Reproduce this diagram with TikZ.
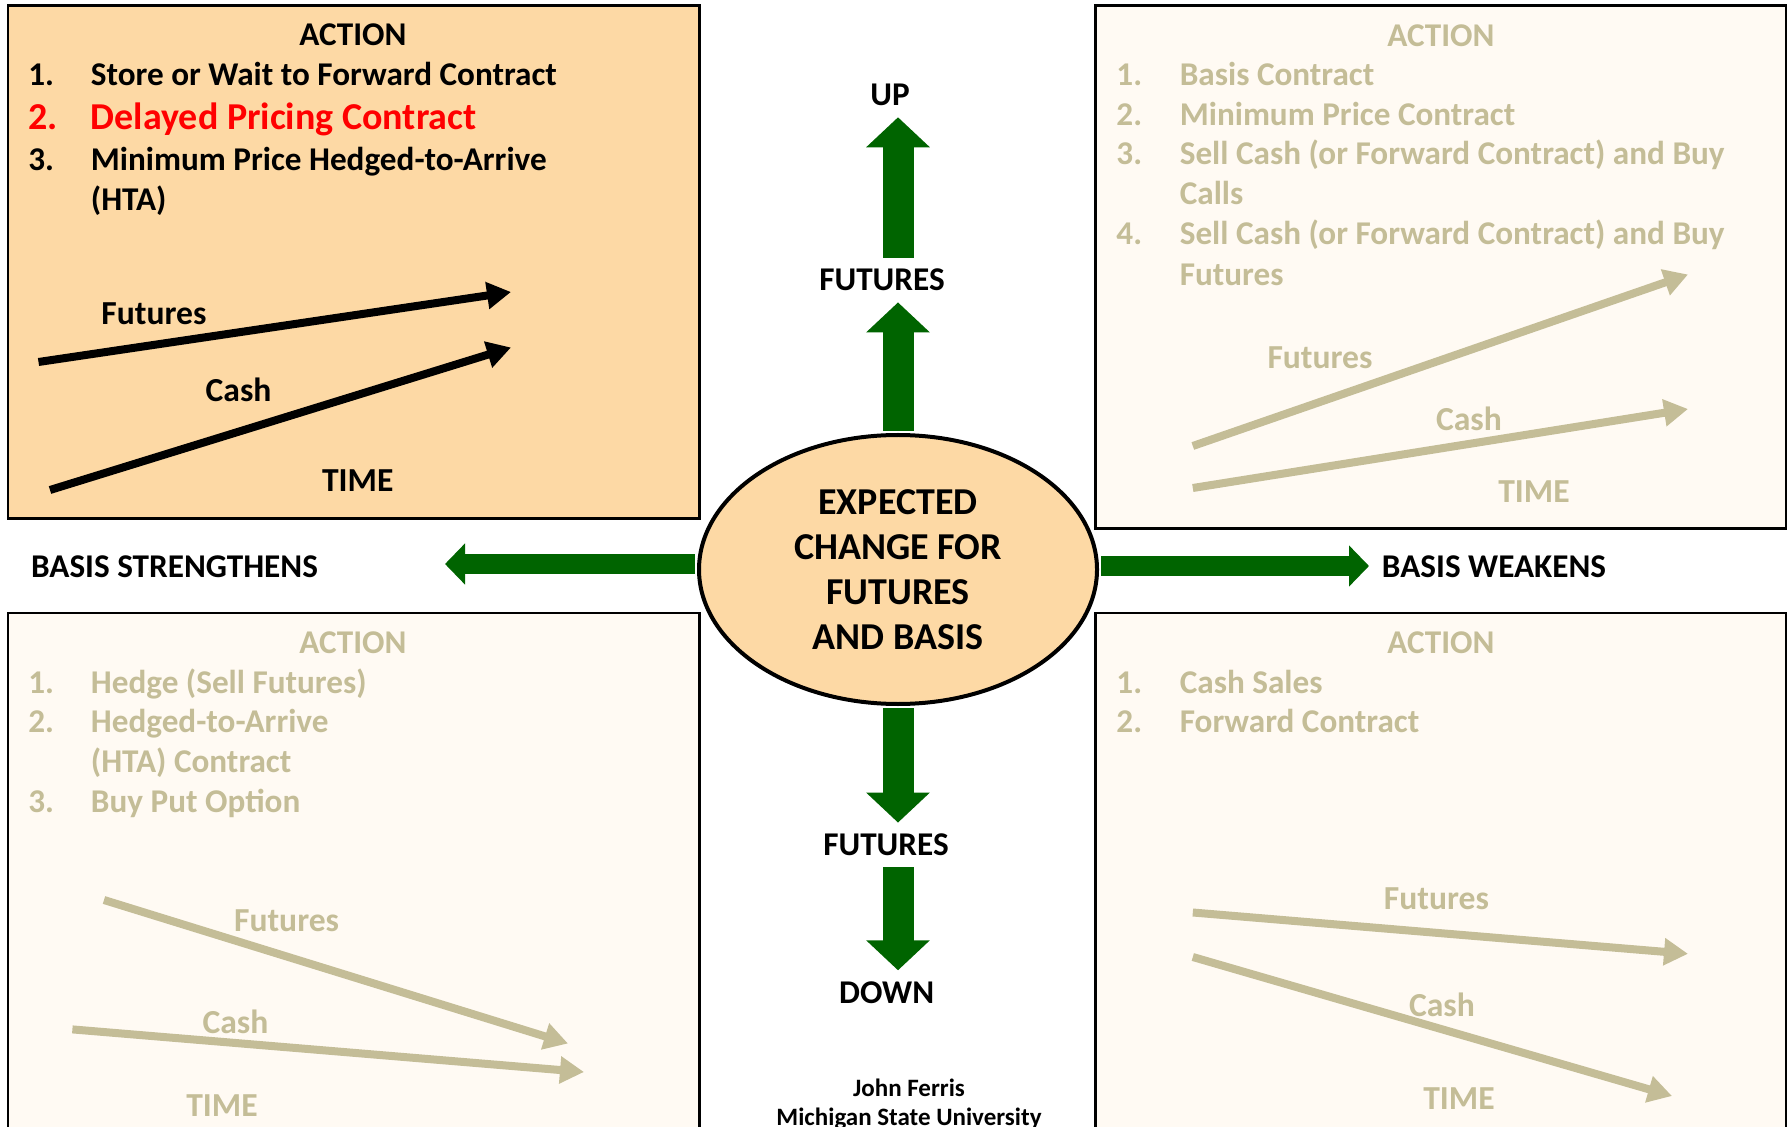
\documentclass[tikz,border=0pt]{standalone}
\usepackage{fontspec}
\setmainfont{Carlito}
\usetikzlibrary{shapes.geometric, arrows.meta}
\definecolor{peach}{HTML}{FDD9A5}
\definecolor{paper}{HTML}{FFFAF3}
\definecolor{tan}{HTML}{C4BD97}
\definecolor{dkgreen}{HTML}{006400}
\tikzset{
  box/.style={draw=black, line width=1.2pt},
  head/.style={font=\bfseries\fontsize{16.6}{20}\selectfont, anchor=base, inner sep=0pt},
  item/.style={font=\bfseries\fontsize{16.6}{20}\selectfont, anchor=base west, inner sep=0pt},
  glab/.style={font=\bfseries\fontsize{16.8}{20}\selectfont, anchor=base, inner sep=0pt},
  dirlab/.style={font=\bfseries\fontsize{16.6}{20}\selectfont, inner sep=5.5pt},
  trend/.style={line width=4pt, -{Triangle[length=12pt,width=13pt]}},
  garrowv/.style={draw=dkgreen, line width=15.5pt, shorten <=1pt, -{Triangle[length=15pt,width=31pt]}},
  garrowh/.style={draw=dkgreen, line width=10pt, shorten <=1pt, -{Triangle[length=10pt,width=20pt]}},
  faded/.style={text=tan}
}
\begin{document}
\begin{tikzpicture}[x=0.5pt, y=-0.5pt]
    \clip (0,0) rectangle (1791,1127);
    \fill[white] (0,0) rectangle (1791,1127);

    % quadrant boxes
    \draw[box, fill=peach] (8,5.5) rectangle (699.5,518.5);
    \draw[box, fill=paper] (1095.5,5.5) rectangle (1786,528.5);
    \draw[box, fill=paper] (8,613) rectangle (699.5,1140);
    \draw[box, fill=paper] (1095.5,613) rectangle (1786,1140);

    % top left: futures up, basis strengthens
    \node[head] (tlhead) at (353,45.6) {ACTION};
    \node[item] (tln1) at (28,86) {1.};
    \node[item] (tlt1) at (90.5,86) {Store or Wait to Forward Contract};
    \node[item, text=red, font=\bfseries\fontsize{19}{22}\selectfont] (tln2) at (28,130) {2.};
    \node[item, text=red, font=\bfseries\fontsize{19}{22}\selectfont] (tlt2) at (90.5,130) {Delayed Pricing Contract};
    \node[item] (tln3) at (28,170.7) {3.};
    \node[item] (tlt3) at (90.5,170.7) {Minimum Price Hedged-to-Arrive};
    \node[item] (tlt3b) at (90.5,211) {(HTA)};
    \coordinate (tlfa) at (38.5,362);
    \coordinate (tlfb) at (511,292);
    \coordinate (tlca) at (50,490);
    \coordinate (tlcb) at (511,347.5);
    \draw[trend] (tlfa) -- (tlfb);
    \draw[trend] (tlca) -- (tlcb);
    \node[glab] (tlfut) at (154,324.5) {Futures};
    \node[glab] (tlcash) at (238.6,402) {Cash};
    \node[glab] (tltime) at (357.7,491.8) {TIME};

    % top right: futures up, basis weakens
    \begin{scope}[every node/.append style={faded}]
    \node[head] (trhead) at (1441,46.5) {ACTION};
    \foreach \n/\y in {1/86, 2/125.7, 3/165, 4/245}
        \node[item] (trn\n) at (1116,\y) {\n.};
    \node[item] (trt1) at (1179.4,86) {Basis Contract};
    \node[item] (trt2) at (1179.4,125.7) {Minimum Price Contract};
    \node[item] (trt3) at (1179.4,165) {Sell Cash (or Forward Contract) and Buy};
    \node[item] (trt3b) at (1179.4,205) {Calls};
    \node[item] (trt4) at (1179.4,245) {Sell Cash (or Forward Contract) and Buy};
    \node[item] (trt4b) at (1179.4,286) {Futures};
    \coordinate (trfa) at (1192.8,446);
    \coordinate (trfb) at (1688,274.5);
    \coordinate (trca) at (1192.8,488);
    \coordinate (trcb) at (1688,409);
    \draw[trend, draw=tan] (trfa) -- (trfb);
    \draw[trend, draw=tan] (trca) -- (trcb);
    \node[glab] (trfut) at (1320,368.5) {Futures};
    \node[glab] (trcash) at (1469,431) {Cash};
    \node[glab] (trtime) at (1534,502.8) {TIME};

    % bottom left: futures down, basis strengthens
    \node[head] (blhead) at (353,653.8) {ACTION};
    \foreach \n/\y in {1/693.4, 2/732, 3/812.4}
        \node[item] (bln\n) at (28,\y) {\n.};
    \node[item] (blt1) at (90.5,693.4) {Hedge (Sell Futures)};
    \node[item] (blt2) at (90.5,732) {Hedged-to-Arrive};
    \node[item] (blt2b) at (90.5,772.4) {(HTA) Contract};
    \node[item] (blt3) at (90.5,812.4) {Buy Put Option};
    \coordinate (blfa) at (104,900);
    \coordinate (blfb) at (568,1043.5);
    \coordinate (blca) at (72.4,1029.4);
    \coordinate (blcb) at (584,1072);
    \draw[trend, draw=tan] (blfa) -- (blfb);
    \draw[trend, draw=tan] (blca) -- (blcb);
    \node[glab] (blfut) at (286.6,931) {Futures};
    \node[glab] (blcash) at (235.5,1033.4) {Cash};
    \node[glab] (bltime) at (222,1116.8) {TIME};

    % bottom right: futures down, basis weakens
    \node[head] (brhead) at (1441,653.8) {ACTION};
    \foreach \n/\y in {1/693.4, 2/732}
        \node[item] (brn\n) at (1116,\y) {\n.};
    \node[item] (brt1) at (1179.4,693.4) {Cash Sales};
    \node[item] (brt2) at (1179.4,732) {Forward Contract};
    \coordinate (brfa) at (1192.8,912.5);
    \coordinate (brfb) at (1688,953.8);
    \coordinate (brca) at (1192.8,957);
    \coordinate (brcb) at (1672,1096);
    \draw[trend, draw=tan] (brfa) -- (brfb);
    \draw[trend, draw=tan] (brca) -- (brcb);
    \node[glab] (brfut) at (1436.4,909) {Futures};
    \node[glab] (brcash) at (1442,1016.6) {Cash};
    \node[glab] (brtime) at (1459,1109) {TIME};
    \end{scope}

    % centre
    \node[ellipse, draw, line width=2pt, fill=peach, minimum width=199pt, minimum height=134.5pt,
        inner sep=0pt, align=center, font=\bfseries\fontsize{19}{22.5}\selectfont]
        (ell) at (898,569.5) {EXPECTED\\CHANGE FOR\\FUTURES\\AND BASIS};

    \node[dirlab] (up) at (890,95) {UP};
    \node[dirlab] (futup) at (882,280) {FUTURES};
    \node[dirlab] (futdn) at (886,845) {FUTURES};
    \node[dirlab] (down) at (886.7,992.7) {DOWN};
    \node[dirlab] (strong) at (174.5,566.7) {BASIS STRENGTHENS};
    \node[dirlab] (weak) at (1494,566.7) {BASIS WEAKENS};
    \coordinate (ltip) at (445,564);
    \coordinate (rtip) at (1369,566);

    \draw[garrowv] (ell.north) -- (ell.north |- futup.south);
    \draw[garrowv, shorten <=0pt] (ell.north |- futup.north) -- (ell.north |- up.south);
    \draw[garrowv] (ell.south) -- (ell.south |- futdn.north);
    \draw[garrowv, shorten <=0pt] (ell.south |- futdn.south) -- (ell.south |- down.north);
    \draw[garrowh] (ell.west |- ltip) -- (ltip);
    \draw[garrowh] (ell.east |- rtip) -- (rtip);

    \node[font=\bfseries\fontsize{12.5}{15}\selectfont, anchor=base, inner sep=0pt] (name) at (909,1096.7) {John Ferris};
    \node[font=\bfseries\fontsize{12.5}{15}\selectfont, anchor=base, inner sep=0pt] (univ) at (909,1125) {Michigan State University};
\end{tikzpicture}
\end{document}
